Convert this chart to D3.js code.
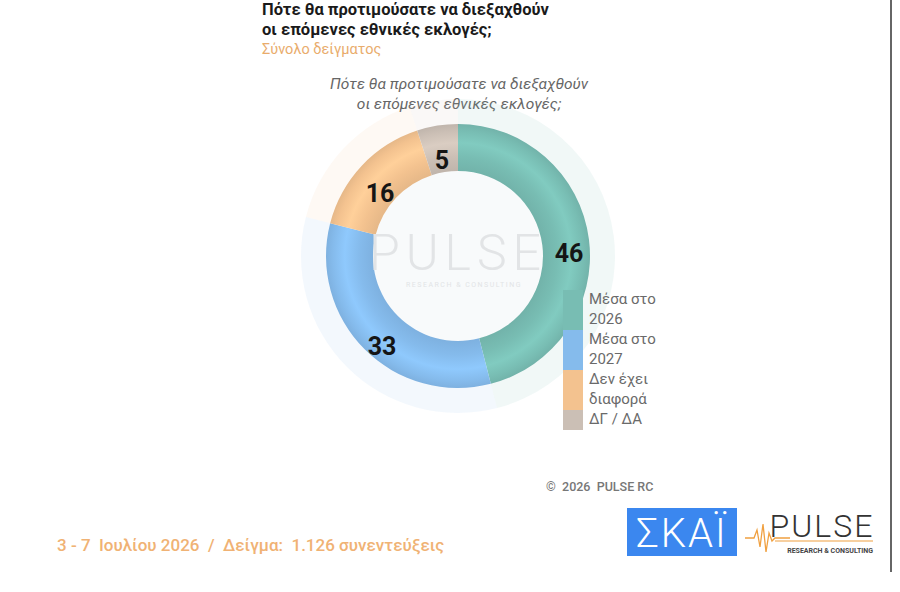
<!DOCTYPE html>
<html>
<head>
<meta charset="utf-8">
<script src="https://cdn.jsdelivr.net/npm/d3@7"></script>
<style>
  body { margin: 0; background: #fff; }
  svg { display: block; font-family: Roboto, "Noto Sans", sans-serif; }
  text { white-space: pre; }
</style>
</head>
<body>
<div id="chart"></div>
<script>
const categories = ['Μέσα στο 2026', 'Μέσα στο 2027', 'Δεν έχει διαφορά', 'ΔΓ / ΔΑ'];
const legendLines = [['Μέσα στο', '2026'], ['Μέσα στο', '2027'], ['Δεν έχει', 'διαφορά'], ['ΔΓ / ΔΑ']];
const values = [46, 33, 16, 5];
const colors = ['#78bdb3', '#85bbec', '#f3c28f', '#cbbfb5'];
const titleLines = ['Πότε θα προτιμούσατε να διεξαχθούν', 'οι επόμενες εθνικές εκλογές;'];
const subtitle = 'Σύνολο δείγματος';
const footer = '3 - 7  Ιουλίου 2026  /  Δείγμα:  1.126 συνεντεύξεις';

const width = 900, height = 592;
const svg = d3.select('#chart').append('svg')
    .attr('width', width)
    .attr('height', height);

// headers
svg.append('text')
    .style('font-size', '16.5px').style('font-weight', 'bold').style('fill', '#1a1a1a')
    .selectAll('tspan').data(titleLines).join('tspan')
    .attr('x', 262).attr('y', (d, i) => 15 + i * 20)
    .text(d => d);
svg.append('text')
    .attr('x', 262).attr('y', 54)
    .style('font-size', '14.5px').style('fill', '#e9ac6c')
    .text(subtitle);

svg.append('text')
    .attr('text-anchor', 'middle')
    .style('font-size', '15.5px').style('font-style', 'italic').style('fill', '#666')
    .selectAll('tspan').data(titleLines).join('tspan')
    .attr('x', 459).attr('y', (d, i) => 89 + i * 20)
    .text(d => d);

// donut
const cx = 458, cy = 256;
const rInner = 85, rOuter = 132, rHalo = 157;
const g = svg.append('g').attr('transform', `translate(${cx},${cy})`);

const pie = d3.pie().sort(null).value(d => d)(values);
const halo = d3.arc().innerRadius(rInner).outerRadius(rHalo);
const ring = d3.arc().innerRadius(rInner).outerRadius(rOuter);

g.append('circle').attr('r', rInner).attr('fill', '#f8fafb');
g.selectAll('path.halo').data(pie).join('path')
    .attr('class', 'halo')
    .attr('d', halo)
    .attr('fill', (d, i) => colors[i])
    .attr('opacity', 0.1);

const defs = svg.append('defs');
colors.forEach((c, i) => {
    const grad = defs.append('radialGradient')
        .attr('id', 'tube' + i)
        .attr('gradientUnits', 'userSpaceOnUse')
        .attr('cx', 0).attr('cy', 0).attr('r', rOuter);
    const base = d3.color(c);
    const dark = base.darker(0.15), light = base.brighter(0.2);
    const f = rInner / rOuter;
    grad.append('stop').attr('offset', f).attr('stop-color', dark);
    grad.append('stop').attr('offset', f + (1 - f) * 0.3).attr('stop-color', base);
    grad.append('stop').attr('offset', f + (1 - f) * 0.6).attr('stop-color', light);
    grad.append('stop').attr('offset', f + (1 - f) * 0.85).attr('stop-color', base);
    grad.append('stop').attr('offset', 1).attr('stop-color', dark);
});

g.selectAll('path.ring').data(pie).join('path')
    .attr('class', 'ring')
    .attr('d', ring)
    .attr('fill', (d, i) => `url(#tube${i})`);

// watermark
g.append('text')
    .attr('x', 0).attr('y', 14)
    .attr('text-anchor', 'middle')
    .style('font-size', '50px').style('font-weight', 300)
    .style('letter-spacing', '6px')
    .style('fill', '#e2e4e6')
    .text('PULSE');
g.append('text')
    .attr('x', 6).attr('y', 31)
    .attr('text-anchor', 'middle')
    .style('font-size', '7px').style('letter-spacing', '1.5px')
    .style('fill', '#e2e4e6')
    .text('RESEARCH & CONSULTING');

// value labels
const labelPos = [[111, -3], [-76, 90], [-78, -63], [-16, -96]];
g.selectAll('text.val').data(pie).join('text')
    .attr('class', 'val')
    .attr('x', (d, i) => labelPos[i][0])
    .attr('y', (d, i) => labelPos[i][1])
    .attr('text-anchor', 'middle')
    .attr('dy', '0.35em')
    .style('font-size', '25px').style('font-weight', 'bold')
    .style('fill', '#151515')
    .text(d => d.data);

// legend
const rowH = 20;
let yPos = 290;
const legend = svg.append('g').attr('class', 'legend');
legendLines.forEach((lines, i) => {
    const h = lines.length * rowH;
    legend.append('rect')
        .attr('x', 563).attr('y', yPos)
        .attr('width', 20).attr('height', h)
        .attr('fill', colors[i]);
    lines.forEach((t, j) => {
        legend.append('text')
            .attr('x', 589).attr('y', yPos + 14 + j * rowH)
            .style('font-size', '15px').style('fill', '#6a6a6a')
            .text(t);
    });
    yPos += h;
});

// copyright
svg.append('text')
    .attr('x', 546).attr('y', 491)
    .style('font-size', '12.5px').style('font-weight', 500).style('fill', '#777')
    .text('©  2026  PULSE RC');

// footer
svg.append('text')
    .attr('x', 57).attr('y', 551)
    .style('font-size', '17px').style('font-weight', 500).style('fill', '#f0b274')
    .text(footer);

// SKAI logo
svg.append('rect')
    .attr('x', 627).attr('y', 508).attr('width', 110).attr('height', 48)
    .attr('fill', '#3b87ef');
svg.append('text')
    .attr('x', 682).attr('y', 547)
    .attr('text-anchor', 'middle')
    .style('font-size', '40px').style('font-weight', 300).style('fill', '#fff')
    .style('letter-spacing', '2px')
    .text('ΣΚΑΪ');

// PULSE logo
const pulseLine = [[745, 538], [754, 538], [757, 530], [760, 547], [763, 524], [766, 552], [769, 533], [772, 541], [775, 538], [790, 538]];
svg.append('path')
    .attr('d', d3.line()(pulseLine))
    .attr('fill', 'none').attr('stroke', '#f0a040').attr('stroke-width', 1.3);
svg.append('line')
    .attr('x1', 775).attr('x2', 873).attr('y1', 541).attr('y2', 541)
    .attr('stroke', '#f0a040').attr('stroke-width', 1.2);
svg.append('text')
    .attr('x', 822).attr('y', 537)
    .attr('text-anchor', 'middle')
    .style('font-size', '32px').style('font-weight', 300).style('fill', '#333')
    .style('letter-spacing', '2px')
    .text('PULSE');
svg.append('text')
    .attr('x', 873).attr('y', 553)
    .attr('text-anchor', 'end')
    .style('font-size', '7px').style('font-weight', 'bold').style('fill', '#444')
    .text('RESEARCH & CONSULTING');

// right border
svg.append('line')
    .attr('x1', 891).attr('x2', 891).attr('y1', 0).attr('y2', 572)
    .attr('stroke', '#333').attr('stroke-width', 1.5);
</script>
</body>
</html>
